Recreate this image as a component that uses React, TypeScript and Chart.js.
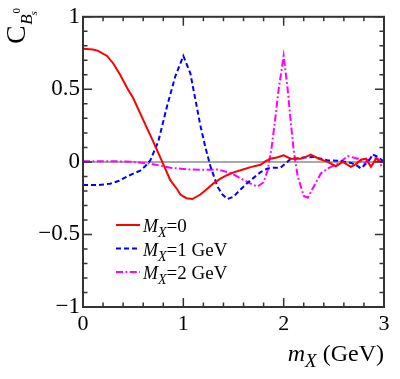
import React, { useEffect, useRef } from "react";
import { Chart, registerables } from "chart.js";

Chart.register(...registerables);

// ---- data ----
const redX = [0, 0.1, 0.15, 0.24, 0.3, 0.37, 0.44, 0.5, 0.6, 0.7, 0.79, 0.87, 0.94, 0.97, 1.03, 1.09, 1.17, 1.23, 1.3, 1.37, 1.44, 1.5, 1.57, 1.67, 1.77, 1.82, 1.87, 1.93, 2.0, 2.07, 2.17, 2.22, 2.27, 2.35, 2.44, 2.52, 2.59, 2.67, 2.72, 2.77, 2.82, 2.87, 2.92, 2.97, 3.0];
const redY = [0.78, 0.775, 0.765, 0.73, 0.68, 0.6, 0.51, 0.44, 0.29, 0.14, 0.0, -0.126, -0.19, -0.225, -0.25, -0.256, -0.225, -0.19, -0.148, -0.115, -0.09, -0.072, -0.058, -0.036, -0.02, 0.005, 0.022, 0.03, 0.045, 0.022, 0.022, 0.035, 0.05, 0.022, 0.0, -0.03, 0.0, -0.034, -0.015, 0.015, 0.022, -0.034, 0.022, 0.0, 0.0];

const blueX = [0, 0.15, 0.27, 0.36, 0.44, 0.52, 0.57, 0.62, 0.67, 0.75, 0.84, 0.92, 1.0, 1.07, 1.12, 1.17, 1.22, 1.27, 1.34, 1.39, 1.44, 1.5, 1.57, 1.63, 1.7, 1.77, 1.84, 1.9, 1.97, 2.07, 2.2, 2.3, 2.44, 2.57, 2.67, 2.72, 2.77, 2.84, 2.89, 2.94, 3.0];
const blueY = [-0.16, -0.16, -0.15, -0.13, -0.1, -0.075, -0.06, -0.03, 0.01, 0.14, 0.39, 0.59, 0.73, 0.61, 0.43, 0.25, 0.1, -0.03, -0.17, -0.225, -0.256, -0.24, -0.19, -0.15, -0.11, -0.07, -0.045, -0.04, -0.04, 0.02, 0.03, 0.034, 0.01, 0.007, -0.007, -0.02, -0.045, 0.0, 0.05, 0.034, 0.0];

const magX = [0, 0.3, 0.5, 0.67, 0.87, 1.07, 1.2, 1.34, 1.47, 1.6, 1.67, 1.74, 1.8, 1.84, 1.88, 1.92, 1.95, 2.0, 2.04, 2.07, 2.1, 2.14, 2.2, 2.24, 2.3, 2.37, 2.44, 2.54, 2.64, 2.74, 2.8, 2.87, 2.94, 2.97, 3.0];
const magY = [0.005, 0.005, 0.0, -0.012, -0.04, -0.053, -0.054, -0.053, -0.076, -0.124, -0.15, -0.17, -0.14, -0.06, 0.1, 0.32, 0.5, 0.73, 0.5, 0.28, 0.08, -0.1, -0.235, -0.247, -0.17, -0.08, -0.045, -0.012, 0.04, 0.022, -0.012, 0.034, 0.022, -0.022, 0.0];

const seriesNames = ["=0", "=1 GeV", "=2 GeV"];
const seriesColors = ["#ff0000", "#0000ff", "#ff00ff"];
const seriesDashes: number[][] = [[], [5, 3], [7, 2.5, 1.8, 2.5]];

const xMin = 0, xMax = 3, xMajor = 1, xMinor = 0.2;
const yMin = -1, yMax = 1, yMajor = 0.5, yMinor = 0.1;

const SERIF = "'Liberation Serif', 'DejaVu Serif', serif";

type Run = { text: string; size: number; italic?: boolean; dy?: number; dx?: number; noAdvance?: boolean };

function drawRuns(ctx: CanvasRenderingContext2D, x: number, y: number, runs: Run[]) {
  let cx = x;
  for (const r of runs) {
    ctx.font = `${r.italic ? "italic " : ""}${r.size}px ${SERIF}`;
    ctx.fillText(r.text, cx + (r.dx || 0), y + (r.dy || 0));
    if (!r.noAdvance) cx += ctx.measureText(r.text).width + (r.dx || 0);
  }
  return cx;
}

function runsWidth(ctx: CanvasRenderingContext2D, runs: Run[]) {
  let w = 0;
  for (const r of runs) {
    ctx.font = `${r.italic ? "italic " : ""}${r.size}px ${SERIF}`;
    if (!r.noAdvance) w += ctx.measureText(r.text).width + (r.dx || 0);
  }
  return w;
}

const decorPlugin = {
  id: "decor",
  beforeDatasetsDraw(chart: any) {
    const { ctx, chartArea: a, scales } = chart;
    const y0 = scales.y.getPixelForValue(0);
    ctx.save();
    ctx.strokeStyle = "#8c8c8c";
    ctx.lineWidth = 1.5;
    ctx.beginPath();
    ctx.moveTo(a.left, y0);
    ctx.lineTo(a.right, y0);
    ctx.stroke();
    ctx.restore();
  },
  afterDatasetsDraw(chart: any) {
    const { ctx, chartArea: a, scales } = chart;
    const xs = scales.x, ys = scales.y;
    ctx.save();
    // frame
    ctx.strokeStyle = "#333";
    ctx.lineWidth = 2;
    ctx.strokeRect(a.left, a.top, a.right - a.left, a.bottom - a.top);
    // ticks
    ctx.lineWidth = 1.5;
    ctx.beginPath();
    const nx = Math.round((xMax - xMin) / xMinor);
    for (let i = 0; i <= nx; i++) {
      const v = xMin + i * xMinor;
      const major = Math.abs(v / xMajor - Math.round(v / xMajor)) < 1e-6;
      const len = major ? 9 : 4.5;
      const px = xs.getPixelForValue(v);
      ctx.moveTo(px, a.bottom); ctx.lineTo(px, a.bottom - len);
      ctx.moveTo(px, a.top); ctx.lineTo(px, a.top + len);
    }
    const ny = Math.round((yMax - yMin) / yMinor);
    for (let i = 0; i <= ny; i++) {
      const v = yMin + i * yMinor;
      const major = Math.abs(v / yMajor - Math.round(v / yMajor)) < 1e-6;
      const len = major ? 9 : 4.5;
      const py = ys.getPixelForValue(v);
      ctx.moveTo(a.left, py); ctx.lineTo(a.left + len, py);
      ctx.moveTo(a.right, py); ctx.lineTo(a.right - len, py);
    }
    ctx.stroke();

    ctx.fillStyle = "#000";
    ctx.textBaseline = "alphabetic";
    ctx.textAlign = "left";
    // x title
    const xt: Run[] = [
      { text: "m", size: 24, italic: true },
      { text: "X", size: 19, italic: true, dy: 6 },
      { text: " (GeV)", size: 24 },
    ];
    const w = runsWidth(ctx, xt);
    drawRuns(ctx, a.right - w, 361, xt);

    // y title (rotated)
    ctx.save();
    ctx.translate(25, 44);
    ctx.rotate(-Math.PI / 2);
    const endC = drawRuns(ctx, 0, 0, [{ text: "C", size: 28 }]);
    const endB = drawRuns(ctx, endC + 0.5, 0, [{ text: "B", size: 17, italic: true, dy: 7 }]);
    drawRuns(ctx, endB - 1, 0, [{ text: "s", size: 11, italic: true, dy: 12 }]);
    drawRuns(ctx, endB + 1, 0, [{ text: "0", size: 11, dy: -5 }]);
    ctx.restore();

    // legend
    const rows = [225, 248.5, 272];
    for (let i = 0; i < seriesNames.length; i++) {
      const ly = rows[i];
      ctx.strokeStyle = seriesColors[i];
      ctx.lineWidth = 2;
      ctx.setLineDash(seriesDashes[i]);
      ctx.beginPath();
      ctx.moveTo(116, ly);
      ctx.lineTo(140, ly);
      ctx.stroke();
      ctx.setLineDash([]);
      drawRuns(ctx, 143, ly + 7, [
        { text: "M", size: 18, italic: true },
        { text: "X", size: 14, italic: true, dy: 5 },
        { text: seriesNames[i], size: 19 },
      ]);
    }
    ctx.restore();
  },
};

function fmt(v: number) {
  const s = String(Math.round(v * 100) / 100);
  return v < 0 ? "\u2212" + s.slice(1) : s;
}

export default function App() {
  const ref = useRef<HTMLCanvasElement | null>(null);
  useEffect(() => {
    document.body.style.margin = "0";
    const canvas = ref.current!;
    const mk = (xsArr: number[], ysArr: number[]) => xsArr.map((x, i) => ({ x, y: ysArr[i] }));
    const dataSets = [mk(redX, redY), mk(blueX, blueY), mk(magX, magY)];
    const chart = new Chart(canvas, {
      type: "line",
      data: {
        datasets: dataSets.map((d, i) => ({
          label: seriesNames[i],
          data: d,
          borderColor: seriesColors[i],
          borderWidth: 2,
          borderDash: seriesDashes[i],
          pointRadius: 0,
          tension: 0,
          fill: false,
        })),
      },
      options: {
        animation: false,
        responsive: false,
        maintainAspectRatio: false,
        layout: { padding: { top: 10, right: 16, left: 0, bottom: 0 } },
        plugins: { legend: { display: false }, tooltip: { enabled: false }, title: { display: false } },
        scales: {
          x: {
            type: "linear",
            min: xMin,
            max: xMax,
            ticks: {
              stepSize: xMajor,
              color: "#000",
              padding: 4,
              font: { family: SERIF, size: 22 },
              callback: (v: any) => fmt(Number(v)),
            },
            grid: { display: false, drawTicks: false, tickLength: 0 },
            border: { display: false },
            afterFit: (s: any) => { s.height = 72; },
          },
          y: {
            type: "linear",
            min: yMin,
            max: yMax,
            ticks: {
              stepSize: yMajor,
              color: "#000",
              padding: 3,
              font: { family: SERIF, size: 23 },
              callback: (v: any) => fmt(Number(v)),
            },
            grid: { display: false, drawTicks: false, tickLength: 0 },
            border: { display: false },
            afterFit: (s: any) => { s.width = 83; },
          },
        },
      },
      plugins: [decorPlugin],
    } as any);
    return () => chart.destroy();
  }, []);
  return (
    <div style={{ width: 400, height: 379 }}>
      <canvas ref={ref} width={400} height={379} style={{ display: "block" }} />
    </div>
  );
}
